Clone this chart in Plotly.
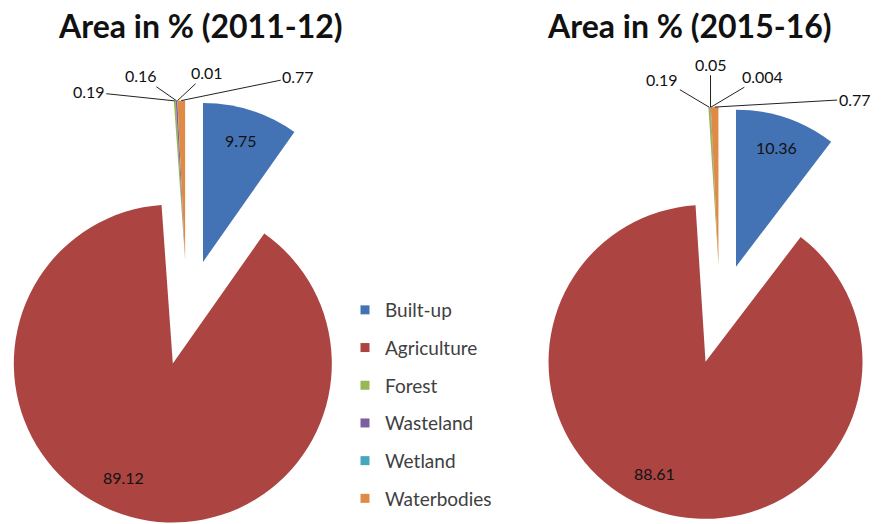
import math
import plotly.graph_objects as go

W, H = 893, 524

# ---------------- data ----------------
categories = ["Built-up", "Agriculture", "Forest", "Wasteland", "Wetland", "Waterbodies"]
values_2011 = [9.75, 89.12, 0.19, 0.16, 0.01, 0.77]
values_2015 = [10.36, 88.61, 0.19, 0.05, 0.004, 0.77]
labels_2011 = ["9.75", "89.12", "0.19", "0.16", "0.01", "0.77"]
labels_2015 = ["10.36", "88.61", "0.19", "0.05", "0.004", "0.77"]
titles = ["Area in % (2011-12)", "Area in % (2015-16)"]

# ---------------- style ----------------
colors = ["#4473B5", "#AC4542", "#97B855", "#7C5FA0", "#45A6BF", "#E08B45"]
TRANSPARENT = "rgba(0,0,0,0)"
groups = [[0], [1], [2, 3, 4, 5]]          # exploded pieces
pies = [
    dict(values=values_2011, labels=labels_2011, cx=187, cy=312.5, R=159, d=53,
         title_x=200,
         small_off=[(-86, -9), (-36, -25), (30, -28), (117, -24)]),
    dict(values=values_2015, labels=labels_2015, cx=720, cy=314, R=157, d=50,
         title_x=689,
         small_off=[(-47, -28), (0, -43), (52, -31), (140, -8)]),
]
inside_frac = [0.80, 0.78]
inside_tweak = [0, 8]
num_font = dict(family="Lato", size=16, color="#111111")


def angle_range(vals, i0, i1):
    tot = sum(vals)
    a0 = 360.0 * sum(vals[:i0]) / tot
    a1 = 360.0 * sum(vals[:i1 + 1]) / tot
    return a0, a1


def direction(theta):
    t = math.radians(theta)
    return math.sin(t), -math.cos(t)


def to_paper(px, py):
    return px / W, 1 - py / H


fig = go.Figure()
annotations = []

for p in pies:
    vals = p["values"]
    for gi, grp in enumerate(groups):
        a0, a1 = angle_range(vals, min(grp), max(grp))
        dx, dy = direction((a0 + a1) / 2)
        ax, ay = p["cx"] + p["d"] * dx, p["cy"] + p["d"] * dy
        R = p["R"]
        dom_x = [max(0.0, (ax - R) / W), min(1.0, (ax + R) / W)]
        dom_y = [max(0.0, 1 - (ay + R) / H), min(1.0, 1 - (ay - R) / H)]
        cols = [colors[i] if i in grp else TRANSPARENT for i in range(len(vals))]
        fig.add_trace(go.Pie(
            values=vals, labels=categories, sort=False, direction="clockwise",
            rotation=0, marker=dict(colors=cols, line=dict(width=0)),
            textinfo="none", hoverinfo="skip", showlegend=False,
            domain=dict(x=dom_x, y=dom_y),
        ))
        if gi < 2:
            i = grp[0]
            s0, s1 = angle_range(vals, i, i)
            lx, ly = direction((s0 + s1) / 2 + inside_tweak[gi])
            px = ax + inside_frac[gi] * R * lx
            py = ay + inside_frac[gi] * R * ly
            x, y = to_paper(px, py)
            annotations.append(dict(x=x, y=y, xref="paper", yref="paper",
                                    xanchor="center", yanchor="middle",
                                    text=p["labels"][i], showarrow=False,
                                    font=num_font))
        else:
            for k, i in enumerate(grp):
                s0, s1 = angle_range(vals, i, i)
                tx, ty = direction((s0 + s1) / 2)
                px = ax + R * tx
                py = ay + R * ty
                x, y = to_paper(px, py)
                offx, offy = p["small_off"][k]
                annotations.append(dict(
                    x=x, y=y, xref="paper", yref="paper", text=p["labels"][i],
                    xanchor="center", yanchor="middle",
                    showarrow=True, arrowhead=0, arrowwidth=1, arrowcolor="#222222",
                    ax=offx, ay=offy, standoff=0, font=num_font))

for ti, t in enumerate(titles):
    x, y = to_paper(pies[ti]["title_x"], 25)
    annotations.append(dict(x=x, y=y, xref="paper", yref="paper", text=t,
                            xanchor="center", yanchor="middle",
                            showarrow=False,
                            font=dict(family="Lato", size=32, color="#111111",
                                      weight="bold")))

# legend entries
for c, name in zip(colors, categories):
    fig.add_trace(go.Scatter(
        x=[None], y=[None], mode="markers", name=name, legendgroup=name,
        marker=dict(symbol="square", size=9, color=c), hoverinfo="skip",
    ))

lx, ly = to_paper(345, 291)
fig.update_layout(
    width=W, height=H,
    margin=dict(l=0, r=0, t=0, b=0),
    paper_bgcolor="white", plot_bgcolor="white",
    xaxis=dict(visible=False), yaxis=dict(visible=False),
    annotations=annotations,
    legend=dict(x=lx, y=ly, xanchor="left", yanchor="top",
                font=dict(family="Lato", size=19, color="#404040"),
                tracegroupgap=10, bgcolor="rgba(0,0,0,0)"),
)

fig.write_html("out.html")
